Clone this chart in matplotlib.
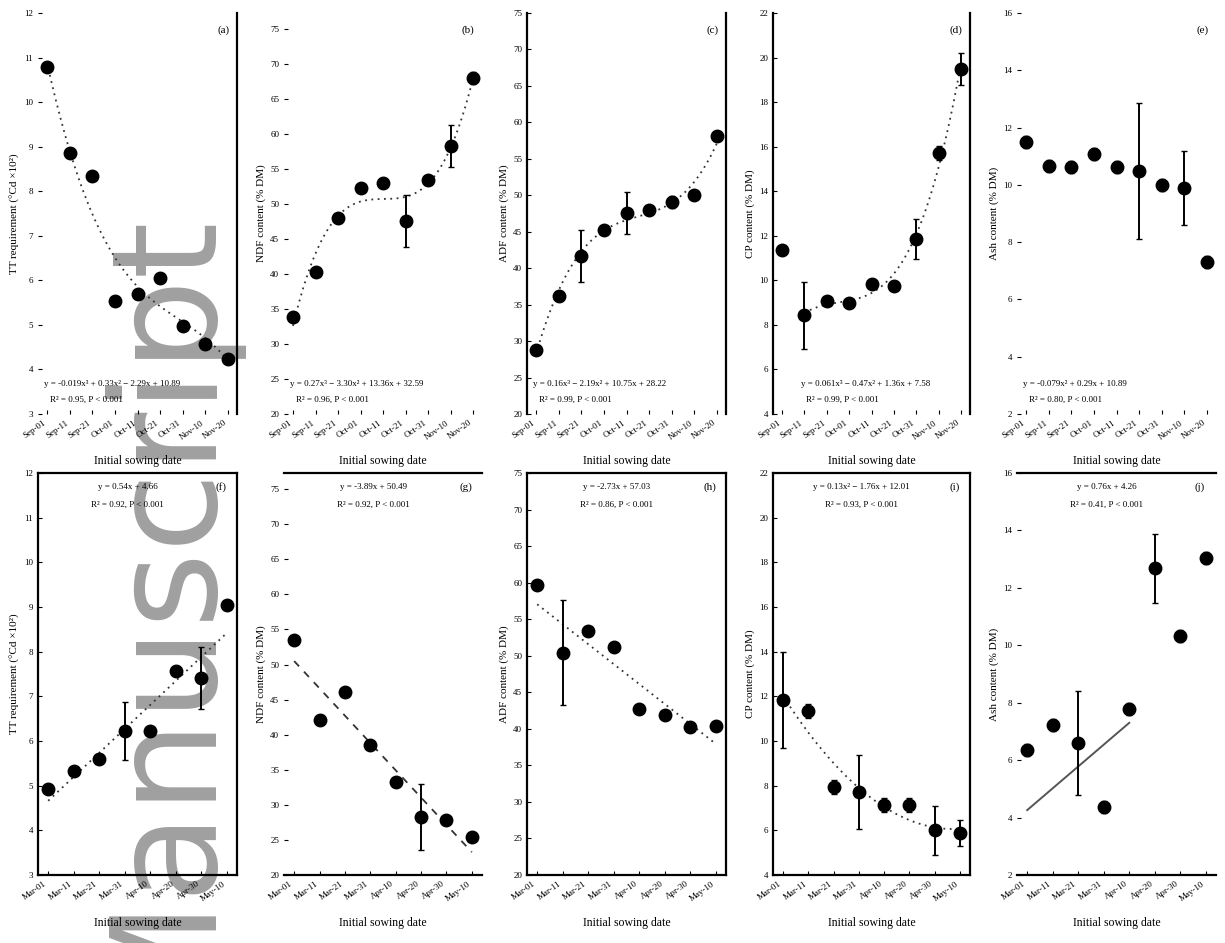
import numpy as np
import matplotlib
matplotlib.use("Agg")
import matplotlib.pyplot as plt

plt.rcParams['font.family'] = ['Liberation Serif', 'DejaVu Serif']

W, H = 1225, 943

# sowing dates (tick labels)
dates_top = ['Sep-01', 'Sep-11', 'Sep-21', 'Oct-01', 'Oct-11', 'Oct-21', 'Oct-31', 'Nov-10', 'Nov-20']
dates_bot = ['Mar-01', 'Mar-11', 'Mar-21', 'Mar-31', 'Apr-10', 'Apr-20', 'Apr-30', 'May-10']

ylabels = ['TT requirement (\u00b0Cd \u00d710\u00b2)', 'NDF content (% DM)', 'ADF content (% DM)',
           'CP content (% DM)', 'Ash content (% DM)']
ylims = [(3, 12), (20, 77.3), (20, 75), (4, 22), (2, 16)]
ysteps = [1, 5, 5, 2, 2]

# top row values
a_y = [10.79, 8.86, 8.34, 5.54, 5.69, 6.05, 4.98, 4.57, 4.23]
a_err = [0.1, 0.1, 0.1, 0.1, 0.1, 0.1, 0.1, 0.1, 0.1]
b_y = [33.9, 40.3, 48.0, 52.3, 53.0, 47.6, 53.4, 58.3, 68.0]
b_err = [0.5, 0.5, 0.5, 0.5, 0.5, 3.7, 0.5, 3.0, 0.8]
c_y = [28.8, 36.2, 41.7, 45.2, 47.6, 48.0, 49.1, 50.0, 58.1]
c_err = [0.4, 0.5, 3.6, 0.5, 2.9, 0.5, 0.8, 0.4, 0.6]
d_y = [11.36, 8.44, 9.07, 8.98, 9.84, 9.75, 11.86, 15.72, 19.49]
d_err = [0.2, 1.5, 0.2, 0.2, 0.2, 0.2, 0.9, 0.3, 0.7]
e_y = [11.50, 10.66, 10.62, 11.08, 10.62, 10.48, 9.99, 9.89, 7.31]
e_err = [0.2, 0.2, 0.2, 0.2, 0.2, 2.37, 0.2, 1.3, 0.2]

# bottom row values
f_y = [4.93, 5.33, 5.60, 6.22, 6.22, 7.57, 7.41, 9.04]
f_err = [0.1, 0.1, 0.1, 0.65, 0.1, 0.1, 0.7, 0.1]
g_y = [53.5, 42.1, 46.1, 38.5, 33.3, 28.3, 27.8, 25.4]
g_err = [0.5, 0.5, 0.5, 0.5, 0.5, 4.7, 0.5, 0.5]
h_y = [59.7, 50.4, 53.4, 51.2, 42.7, 41.9, 40.2, 40.4]
h_err = [0.5, 7.2, 0.5, 0.5, 0.5, 0.5, 0.5, 0.5]
i_y = [11.84, 11.34, 7.94, 7.72, 7.13, 7.13, 6.01, 5.88]
i_err = [2.15, 0.3, 0.3, 1.66, 0.3, 0.3, 1.1, 0.6]
j_y = [6.35, 7.22, 6.60, 4.37, 7.78, 12.69, 10.32, 13.04]
j_err = [0.2, 0.2, 1.8, 0.2, 0.2, 1.2, 0.2, 0.2]
j_line = [0.76, 4.26]  # slope, intercept from panel annotation

top = [(a_y, a_err), (b_y, b_err), (c_y, c_err), (d_y, d_err), (e_y, e_err)]
bot = [(f_y, f_err), (g_y, g_err), (h_y, h_err), (i_y, i_err), (j_y, j_err)]
top_fit = [3, 3, 3, 3, None]
bot_fit = [1, 1, 1, 2, None]
letters_top = ['(a)', '(b)', '(c)', '(d)', '(e)']
letters_bot = ['(f)', '(g)', '(h)', '(i)', '(j)']

col_px = [(38, 237), (284, 482), (527, 726), (773, 970), (1017, 1216)]
row_px = [(13, 414), (473, 875)]
# which spines survive in the scan
spines_top = [['right'], [], ['left', 'right'], ['left', 'right'], []]
spines_bot = [['left', 'right', 'top', 'bottom'], ['top', 'bottom'],
              ['left', 'right', 'top', 'bottom'], ['left', 'right', 'top', 'bottom'], ['top', 'bottom']]

fig = plt.figure(figsize=(W / 100, H / 100), dpi=100)

# watermark behind the panels
fig.text(203 / W, (H - 206) / H, 'Manuscript', rotation=90, rotation_mode='anchor',
         ha='right', va='baseline', fontsize=105, color='#a0a0a0',
         family=['DejaVu Sans'], zorder=-5)


def fmt_poly(p):
    s = 'y = '
    n = len(p) - 1
    for k, c in enumerate(p):
        pw = n - k
        sign = '' if k == 0 else (' + ' if c >= 0 else ' \u2212 ')
        val = abs(c) if k > 0 else c
        term = '%.3f' % val if abs(val) < 0.1 else '%.2f' % val
        if pw == 0:
            s += sign + term
        elif pw == 1:
            s += sign + term + 'x'
        else:
            s += sign + term + 'x' + {2: '\u00b2', 3: '\u00b3'}[pw]
    return s


def r2(x, y, p):
    yy = np.polyval(p, x)
    return 1 - np.sum((y - yy) ** 2) / np.sum((y - np.mean(y)) ** 2)


for row in range(2):
    y0px, y1px = row_px[row]
    data = top if row == 0 else bot
    fits = top_fit if row == 0 else bot_fit
    labs = letters_top if row == 0 else letters_bot
    dates = dates_top if row == 0 else dates_bot
    sp = spines_top if row == 0 else spines_bot
    for col in range(5):
        x0px, x1px = col_px[col]
        ax = fig.add_axes([x0px / W, (H - y1px) / H, (x1px - x0px) / W, (y1px - y0px) / H])
        ax.set_facecolor('none')
        yv, ye = data[col]
        yv = np.array(yv)
        x = np.arange(len(yv))
        ax.errorbar(x, yv, yerr=ye, fmt='o', color='black', ms=9, elinewidth=1.4,
                    capsize=2, capthick=1, zorder=3)

        deg = fits[col]
        if deg is not None:
            start = 1 if (row == 0 and col == 3) else 0
            p = np.polyfit(x[start:], yv[start:], deg)
            xs = np.linspace(x[start], x[-1], 200)
            ls = (0, (1, 2.5)) if not (row == 1 and col == 1) else (0, (4, 4))
            ax.plot(xs, np.polyval(p, xs), color='#333333', lw=1.3, ls=ls, zorder=2)
            eq = fmt_poly(p)
            rr = r2(x[start:], yv[start:], p)
        elif row == 1 and col == 4:
            xs = np.linspace(0, 4, 50)
            ax.plot(xs, j_line[0] * xs + j_line[1], color='#555555', lw=1.4, zorder=2)
            eq = 'y = %.2fx + %.2f' % (j_line[0], j_line[1])
            rr = 0.41
        else:
            p = np.polyfit(x, yv, 2)
            eq = fmt_poly(p)
            rr = r2(x, yv, p)
        line2 = 'R\u00b2 = %.2f, P < 0.001' % rr

        if row == 0:
            xt = 0.14 if col == 3 else 0.03
            ax.text(xt, 0.075, eq, transform=ax.transAxes, fontsize=6.5, va='center')
            ax.text(xt + 0.03, 0.035, line2, transform=ax.transAxes, fontsize=6.5, va='center')
            ax.text(0.93, 0.95, labs[col], transform=ax.transAxes, fontsize=8, ha='center')
        else:
            ax.text(0.45, 0.965, eq, transform=ax.transAxes, fontsize=6.5, ha='center', va='center')
            ax.text(0.45, 0.92, line2, transform=ax.transAxes, fontsize=6.5, ha='center', va='center')
            ax.text(0.92, 0.965, labs[col], transform=ax.transAxes, fontsize=8, ha='center', va='center')

        lo, hi = ylims[col]
        ax.set_ylim(lo, hi)
        ax.set_yticks(np.arange(lo, hi + 0.01, ysteps[col]))
        ax.set_xlim(-0.4, len(yv) - 1 + 0.4)
        ax.set_xticks(x)
        ax.set_xticklabels(dates, rotation=35, ha='right', fontsize=6.5)
        ax.tick_params(axis='both', direction='in', length=3, width=0.8, labelsize=6.5)
        ax.set_ylabel(ylabels[col], fontsize=8, labelpad=3)
        ax.set_xlabel('Initial sowing date', fontsize=8.5, labelpad=10)
        for s in ['left', 'right', 'top', 'bottom']:
            ax.spines[s].set_visible(s in sp[col])
            ax.spines[s].set_linewidth(1.6)

fig.savefig('out.png', dpi=100)
